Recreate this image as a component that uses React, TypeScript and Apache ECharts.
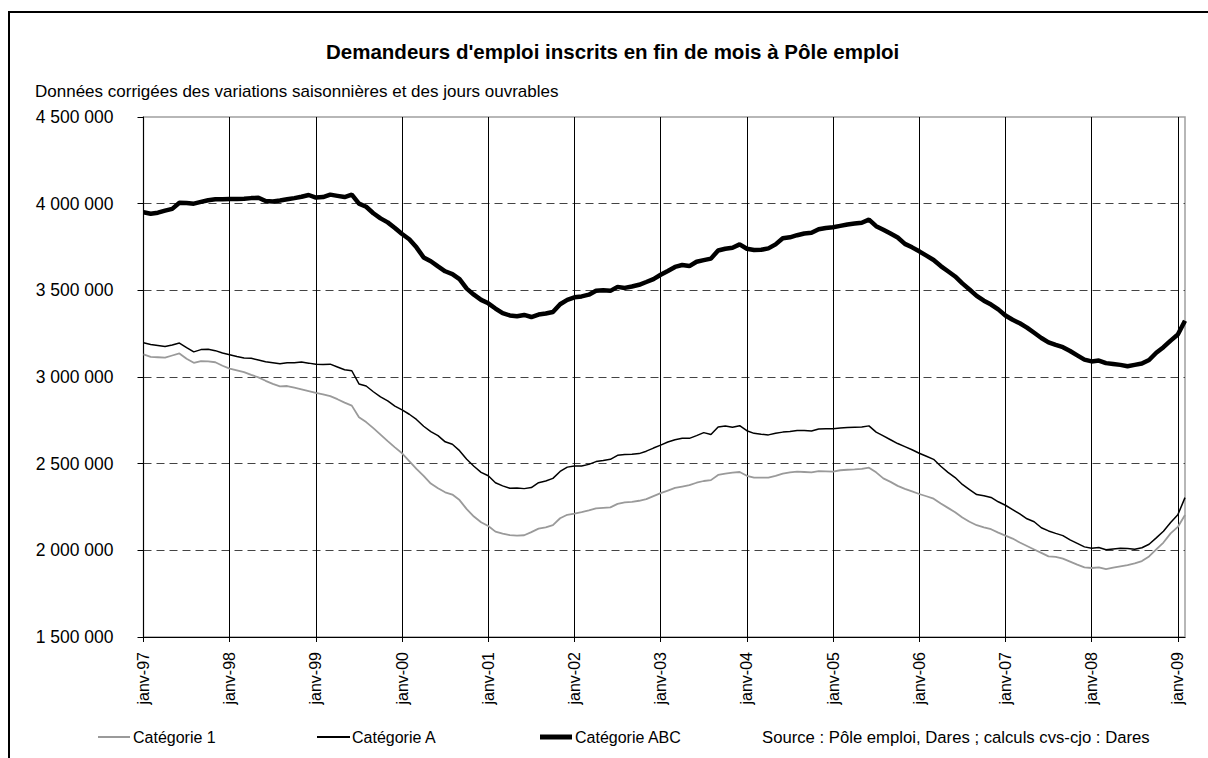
import React, { useEffect, useRef } from "react";
import * as echarts from "echarts";

const monthNames = ["janv", "févr", "mars", "avr", "mai", "juin", "juil", "août", "sept", "oct", "nov", "déc"];
const yearNames = ["97", "98", "99", "00", "01", "02", "03", "04", "05", "06", "07", "08", "09"];
const categories = yearNames.flatMap((y) => monthNames.map((m) => `${m}-${y}`)).slice(0, 146);

// values in thousands
const cat1 = [
  3130, 3116, 3114, 3112, 3124, 3136, 3105, 3082, 3092, 3090, 3085, 3065,
  3048, 3038, 3028, 3012, 2998, 2978, 2960, 2946, 2948, 2938, 2928, 2918,
  2908, 2900, 2890, 2872, 2852, 2835, 2768, 2740, 2705, 2668, 2630, 2594,
  2560, 2515, 2470, 2430, 2385, 2358, 2335, 2322, 2290, 2238, 2195, 2162,
  2140, 2108, 2096, 2088, 2085, 2087, 2105, 2125, 2133, 2145, 2185, 2205,
  2212, 2220, 2230, 2242, 2245, 2248, 2268, 2277, 2280, 2286, 2295, 2313,
  2330, 2345, 2360, 2368, 2376, 2390, 2400, 2405, 2435, 2442, 2448, 2452,
  2430, 2420, 2419, 2419, 2430, 2442, 2450, 2454, 2452, 2450, 2457, 2456,
  2454, 2462, 2465, 2467, 2470, 2477, 2450, 2415, 2395, 2372, 2355, 2340,
  2325, 2312, 2298, 2270, 2245, 2220, 2190, 2165, 2145, 2133, 2122, 2102,
  2085, 2068, 2045, 2025, 2005, 1985, 1965, 1962, 1952, 1935, 1918, 1902,
  1898, 1902, 1892, 1900, 1908, 1915, 1925, 1938, 1965, 2005, 2045, 2098,
  2135, 2204,
];

const catA = [
  3198, 3188, 3182, 3176, 3185, 3196, 3170, 3145, 3158, 3160, 3152, 3138,
  3128, 3118, 3110, 3108, 3098, 3088, 3082, 3076, 3082, 3082, 3086, 3080,
  3073, 3072, 3074, 3058, 3042, 3036, 2960, 2948, 2915, 2885, 2862, 2832,
  2810, 2785, 2755, 2716, 2685, 2662, 2626, 2612, 2575, 2525, 2485, 2450,
  2430, 2390, 2372, 2358, 2360, 2356, 2362, 2390, 2400, 2415, 2455, 2480,
  2487, 2487, 2496, 2512, 2518, 2525, 2548, 2553, 2554, 2558, 2572, 2590,
  2607, 2625, 2638, 2646, 2646, 2662, 2679, 2668, 2712, 2717, 2710, 2719,
  2690, 2675, 2670, 2666, 2676, 2682, 2686, 2692, 2692, 2688, 2700, 2702,
  2702, 2706, 2708, 2710, 2712, 2718, 2682, 2660, 2638, 2616, 2598, 2580,
  2560, 2543, 2525, 2485, 2450, 2420, 2380, 2350, 2322, 2315, 2305, 2280,
  2260, 2235, 2210, 2182, 2165, 2130, 2112, 2098, 2085, 2060, 2040, 2020,
  2012, 2016, 2003, 2008, 2012, 2010, 2006, 2015, 2035, 2072, 2110, 2160,
  2205, 2304,
];

const catABC = [
  3950, 3942, 3948, 3960, 3970, 4005, 4004, 4000, 4010, 4020, 4025, 4026,
  4027, 4027, 4029, 4032, 4034, 4015, 4012, 4018, 4025, 4032, 4040, 4050,
  4035, 4038, 4052, 4045, 4038, 4052, 4000, 3982, 3945, 3915, 3892, 3860,
  3825, 3795, 3748, 3690, 3668, 3638, 3610, 3594, 3565, 3510, 3475, 3445,
  3425, 3395, 3368, 3355, 3350, 3358, 3346, 3360, 3366, 3375, 3420, 3445,
  3460, 3465, 3475, 3498, 3500, 3497, 3520, 3514, 3522, 3532, 3548, 3565,
  3590, 3612, 3635, 3646, 3640, 3665, 3674, 3683, 3730, 3740, 3746, 3765,
  3740, 3733, 3734, 3742, 3765, 3800, 3806, 3818, 3828, 3832, 3852, 3860,
  3864, 3872, 3880, 3885, 3890, 3908, 3870, 3850, 3828, 3805, 3768, 3748,
  3725, 3700, 3675, 3640, 3610, 3580, 3540, 3505, 3468, 3440, 3418, 3390,
  3355, 3330, 3310, 3285, 3255, 3225, 3200, 3185, 3172, 3150, 3125, 3100,
  3090, 3095, 3080, 3075, 3070, 3062, 3070, 3078, 3098, 3140, 3172, 3210,
  3245, 3325,
];

const FONT = "'Liberation Sans', Arial, sans-serif";

function fmtThousands(v: number): string {
  const m = Math.floor(v / 1000);
  const k = String(Math.round(v % 1000)).padStart(3, "0");
  return `${m} ${k} 000`;
}

export default function App() {
  const ref = useRef<HTMLDivElement>(null);
  useEffect(() => {
    if (!ref.current) return;
    const chart = echarts.init(ref.current, undefined, { renderer: "svg" });
    const yearStart = (i: number) => i % 12 === 0;
    chart.setOption({
      animation: false,
      backgroundColor: "#fff",
      textStyle: { fontFamily: FONT },
      title: [
        {
          text: "Demandeurs d'emploi inscrits en fin de mois à Pôle emploi",
          left: 326,
          top: 41,
          padding: 0,
          textStyle: { fontFamily: FONT, fontSize: 20.5, fontWeight: "bold", color: "#000" },
        },
        {
          text: "Données corrigées des variations saisonnières et des jours ouvrables",
          left: 35,
          top: 83,
          padding: 0,
          textStyle: { fontFamily: FONT, fontSize: 17, fontWeight: "normal", color: "#000" },
        },
      ],
      legend: [
        {
          data: ["Catégorie 1"],
          left: 98,
          top: 729,
          padding: 0,
          icon: "rect",
          itemWidth: 32,
          itemHeight: 2,
          itemGap: 0,
          textStyle: { fontFamily: FONT, fontSize: 16, color: "#000", padding: [0, 0, 0, -2] },
        },
        {
          data: ["Catégorie A"],
          left: 317,
          top: 729,
          padding: 0,
          icon: "rect",
          itemWidth: 33,
          itemHeight: 2,
          textStyle: { fontFamily: FONT, fontSize: 16, color: "#000", padding: [0, 0, 0, -3] },
        },
        {
          data: ["Catégorie ABC"],
          left: 540,
          top: 729,
          padding: 0,
          icon: "rect",
          itemWidth: 32,
          itemHeight: 5,
          textStyle: { fontFamily: FONT, fontSize: 16, color: "#000", padding: [0, 0, 0, -2] },
        },
      ],
      graphic: [
        {
          type: "rect",
          shape: { x: 9, y: 12, width: 1215, height: 770 },
          style: { fill: "none", stroke: "#000", lineWidth: 2 },
          silent: true,
        },
        {
          type: "text",
          x: 762,
          y: 737,
          style: {
            text: "Source : Pôle emploi, Dares ; calculs cvs-cjo : Dares",
            font: `16.7px ${FONT}`,
            fill: "#000",
            verticalAlign: "middle",
            textVerticalAlign: "middle",
          },
          silent: true,
        },
      ],
      grid: {
        left: 143.5,
        right: 23,
        top: 117,
        bottom: 121,
        show: true,
        borderColor: "#a0a0a0",
        borderWidth: 1.5,
        backgroundColor: "transparent",
      },
      xAxis: {
        type: "category",
        data: categories,
        boundaryGap: false,
        axisLine: { show: true, lineStyle: { color: "#000", width: 1 } },
        axisTick: { show: true, interval: (i: number) => yearStart(i), length: 5, lineStyle: { color: "#000" } },
        axisLabel: {
          interval: (i: number) => yearStart(i),
          rotate: 90,
          margin: 15,
          fontFamily: FONT,
          fontSize: 16,
          color: "#000",
        },
        splitLine: {
          show: true,
          interval: (i: number) => yearStart(i),
          showMinLine: false,
          lineStyle: { color: "#000", width: 1 },
        },
      },
      yAxis: {
        type: "value",
        min: 1500,
        max: 4500,
        interval: 500,
        axisLine: { show: true, lineStyle: { color: "#000", width: 1 } },
        axisTick: { show: true, length: 6, lineStyle: { color: "#000" } },
        axisLabel: {
          formatter: (v: number) => fmtThousands(v),
          margin: 30,
          fontFamily: FONT,
          fontSize: 17.5,
          color: "#000",
        },
        splitLine: {
          show: true,
          showMinLine: false,
          showMaxLine: false,
          lineStyle: { color: "#444", type: [8, 5], width: 1 },
        },
      },
      series: [
        {
          name: "Catégorie 1",
          type: "line",
          data: cat1,
          showSymbol: false,
          color: "#9a9a9a",
          lineStyle: { color: "#9a9a9a", width: 1.8 },
          z: 3,
        },
        {
          name: "Catégorie A",
          type: "line",
          data: catA,
          showSymbol: false,
          color: "#000",
          lineStyle: { color: "#000", width: 1.5 },
          z: 4,
        },
        {
          name: "Catégorie ABC",
          type: "line",
          data: catABC,
          showSymbol: false,
          color: "#000",
          lineStyle: { color: "#000", width: 4.5 },
          z: 5,
        },
      ],
    });
    return () => chart.dispose();
  }, []);
  return (
    <div
      ref={ref}
      style={{ position: "fixed", left: 0, top: 0, width: 1208, height: 758 }}
    />
  );
}
